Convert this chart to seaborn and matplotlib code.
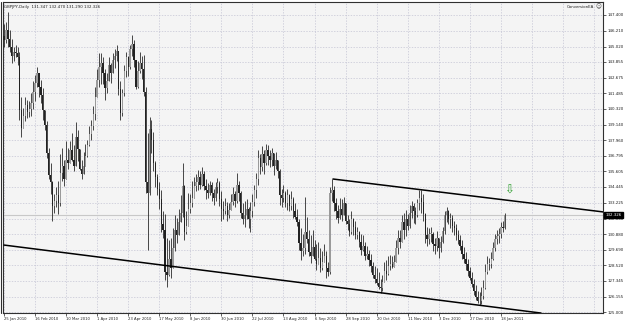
import numpy as np
import pandas as pd
import matplotlib
matplotlib.use("Agg")
import matplotlib.pyplot as plt
from matplotlib.lines import Line2D
import seaborn as sns

# ---------------- data ----------------
start_date = "2010-01-25"
first_open = 145.8

close = [
    145.5, 146.3, 145.6, 145.0, 144.3, 144.6, 144.5, 144.2, 140.2, 138.9,
    139.8, 140.6, 140.1, 140.3, 140.8, 141.6, 142.3, 143.0, 142.0, 141.4,
    140.2, 139.1, 137.0, 135.3, 134.8, 133.0, 133.4, 133.8, 133.2, 135.5,
    136.0, 135.0, 136.5, 136.2, 137.2, 136.5, 136.0, 138.2, 137.3, 135.8,
    135.4, 136.0, 136.8, 137.6, 138.4, 139.0, 139.9, 141.2, 142.5, 143.5,
    143.8, 143.0, 141.9, 142.4, 143.6, 143.0, 144.0, 144.3, 144.7, 141.8,
    140.0, 141.5, 143.2, 144.2, 143.5, 144.8, 145.2, 144.0, 142.0, 143.2,
    143.8, 143.3, 141.6, 134.8, 134.0, 138.8, 138.0, 136.2, 135.2, 134.3,
    133.5, 131.6, 131.2, 128.0, 127.8, 129.0, 128.3, 129.8, 131.2, 130.8,
    131.8, 132.5, 134.5, 131.0, 131.5, 132.8, 133.2, 133.6, 134.5, 134.8,
    135.2, 134.6, 135.4, 134.5, 134.2, 134.0, 134.6, 134.0, 133.6, 134.4,
    134.7, 133.5, 132.8, 132.6, 133.0, 132.3, 132.7, 133.3, 133.9, 133.4,
    134.6, 134.0, 132.5, 132.0, 132.3, 132.8, 132.0, 132.6, 133.3, 134.2,
    135.0, 136.6, 135.9, 136.9, 136.2, 137.2, 136.8, 136.5, 137.0, 136.0,
    136.5, 135.6, 133.8, 133.6, 134.0, 133.2, 133.8, 133.0, 133.5, 132.6,
    132.2, 131.8, 130.2, 129.6, 129.8, 131.0, 130.5, 129.5, 129.2, 129.9,
    129.0, 128.6, 129.1, 128.3, 128.8, 129.2, 128.3, 128.0, 134.0, 134.2,
    133.2, 132.6, 132.1, 132.8, 132.3, 133.2, 131.9, 131.6, 131.0, 132.0,
    131.4, 130.8, 131.0, 130.3, 129.7, 130.0, 129.2, 129.4, 128.9, 128.5,
    127.8, 127.5, 127.2, 126.9, 126.8, 127.3, 128.1, 127.9, 128.5, 128.6,
    128.4, 128.8, 129.8, 130.6, 130.3, 131.8, 131.2, 132.0, 131.5, 132.5,
    133.0, 132.6, 132.3, 133.2, 133.6, 133.3, 132.4, 130.8, 130.5, 130.9,
    130.9, 130.1, 130.0, 130.6, 129.8, 130.3, 131.1, 132.3, 132.6, 132.0,
    132.1, 131.5, 131.3, 130.8, 130.4, 130.0, 129.4, 129.0, 128.6, 128.1,
    127.6, 127.1, 126.6, 126.1, 125.8, 125.8, 126.2, 126.8, 128.0, 128.6,
    128.6, 129.0, 129.8, 130.5, 130.7, 130.9, 131.4, 131.347, 132.326,
]

high = [
    146.7, 146.9, 147.6, 146.3, 145.6, 145.0, 145.1, 145.0, 144.6, 141.2,
    140.4, 141.2, 141.0, 140.9, 141.5, 142.4, 142.9, 143.5, 143.0, 142.5,
    141.9, 140.0, 139.4, 137.4, 136.2, 134.9, 133.9, 134.4, 134.9, 136.9,
    137.4, 136.5, 137.9, 137.4, 137.9, 138.5, 137.6, 139.3, 138.7, 137.2,
    136.5, 137.1, 137.7, 138.0, 139.0, 139.5, 140.5, 142.0, 143.3, 144.5,
    144.5, 144.2, 143.3, 143.0, 144.2, 143.8, 144.5, 144.8, 145.1, 144.4,
    142.4, 141.8, 143.6, 144.6, 144.3, 145.1, 145.9, 145.5, 144.0, 143.9,
    144.6, 144.3, 144.4, 142.0, 138.5, 139.7, 139.5, 138.6, 136.4, 135.4,
    134.8, 134.2, 132.6, 132.4, 130.6, 130.4, 130.6, 131.3, 132.3, 132.1,
    132.8, 133.8, 136.2, 134.6, 132.6, 134.0, 133.9, 134.9, 135.2, 135.4,
    135.7, 135.6, 135.9, 135.6, 135.0, 134.7, 134.9, 134.8, 134.3, 134.8,
    135.1, 134.9, 134.1, 133.4, 133.6, 133.3, 133.2, 133.9, 134.4, 134.1,
    135.5, 134.9, 134.1, 133.2, 133.4, 133.5, 132.9, 133.3, 133.9, 134.6,
    135.5, 137.2, 136.9, 137.5, 137.2, 137.7, 137.6, 137.2, 137.4, 137.0,
    137.1, 136.5, 135.8, 134.3, 134.6, 134.1, 134.3, 133.9, 134.1, 133.7,
    133.2, 132.8, 132.0, 131.3, 130.9, 133.7, 132.2, 131.2, 130.8, 131.2,
    130.4, 130.1, 130.3, 129.8, 129.6, 130.1, 129.6, 128.8, 134.4, 135.0,
    134.5, 133.6, 133.1, 133.6, 133.5, 133.7, 133.0, 132.3, 132.0, 132.6,
    132.1, 131.9, 131.4, 131.1, 130.9, 130.8, 130.3, 130.0, 129.7, 129.4,
    128.8, 128.5, 128.3, 128.0, 127.5, 127.8, 128.8, 128.9, 129.2, 129.3,
    129.2, 129.3, 130.4, 131.2, 131.2, 132.3, 132.5, 132.7, 132.4, 133.1,
    133.4, 133.2, 132.9, 133.5, 134.2, 134.2, 133.9, 132.5, 131.4, 131.3,
    131.4, 131.0, 130.6, 131.1, 130.6, 130.7, 131.4, 132.6, 132.9, 132.7,
    132.5, 132.3, 131.9, 131.6, 131.2, 130.8, 130.4, 129.9, 129.5, 129.0,
    128.4, 128.0, 127.5, 127.0, 126.6, 126.5, 126.9, 127.4, 128.6, 129.2,
    129.1, 129.5, 130.3, 130.9, 131.2, 131.3, 131.8, 131.9, 132.470,
]

low = [
    145.0, 145.3, 145.0, 144.6, 143.8, 143.9, 144.2, 143.6, 139.5, 138.2,
    139.0, 139.4, 139.6, 139.7, 139.8, 140.3, 140.9, 142.0, 141.2, 140.8,
    139.5, 138.7, 136.6, 135.0, 133.9, 131.9, 132.5, 132.9, 132.4, 133.0,
    134.9, 134.5, 135.4, 135.8, 136.4, 136.4, 135.6, 137.0, 136.4, 135.7,
    135.0, 135.4, 136.1, 136.7, 137.5, 138.0, 138.7, 139.5, 141.5, 142.0,
    142.2, 142.2, 141.0, 141.5, 142.5, 142.3, 143.2, 143.4, 143.9, 141.4,
    139.5, 139.8, 141.3, 142.7, 142.8, 143.3, 144.3, 143.5, 141.8, 141.9,
    143.0, 142.6, 141.3, 134.0, 129.7, 133.8, 137.0, 135.6, 134.4, 133.8,
    132.8, 131.0, 130.6, 127.4, 126.9, 127.7, 127.6, 128.3, 129.6, 130.2,
    131.2, 131.9, 132.2, 130.4, 130.9, 131.9, 132.5, 132.9, 133.7, 134.1,
    134.2, 134.3, 134.5, 134.2, 133.5, 133.6, 133.8, 133.4, 133.1, 133.4,
    134.0, 133.0, 131.9, 132.0, 132.4, 131.9, 132.1, 132.7, 133.1, 132.9,
    133.2, 133.4, 132.1, 131.6, 131.4, 132.0, 131.3, 131.0, 132.2, 133.0,
    133.6, 134.6, 135.4, 135.6, 135.4, 136.1, 136.1, 135.9, 136.0, 135.3,
    135.8, 135.1, 133.1, 132.9, 133.3, 132.9, 132.7, 132.6, 132.7, 132.1,
    132.0, 131.5, 129.7, 128.9, 129.2, 129.4, 130.2, 129.2, 128.7, 129.2,
    128.9, 128.2, 128.8, 128.0, 128.2, 128.9, 127.6, 127.7, 127.9, 133.4,
    132.6, 132.0, 131.7, 132.0, 131.9, 132.3, 131.6, 131.2, 130.7, 130.9,
    130.8, 130.5, 130.5, 129.9, 129.3, 129.6, 128.9, 129.0, 128.5, 128.0,
    127.6, 127.2, 127.0, 126.7, 126.4, 126.6, 127.3, 127.4, 127.8, 128.2,
    128.3, 128.4, 128.8, 129.4, 129.8, 130.3, 130.5, 130.7, 131.2, 131.3,
    132.1, 131.7, 131.6, 132.2, 132.7, 132.5, 131.9, 130.2, 130.0, 130.1,
    130.3, 129.6, 129.4, 129.6, 129.1, 129.5, 130.2, 130.9, 131.8, 131.6,
    131.3, 131.0, 130.8, 130.4, 130.1, 129.7, 129.0, 128.7, 128.2, 127.7,
    127.4, 126.9, 126.3, 125.9, 125.7, 125.5, 125.6, 126.0, 126.7, 127.9,
    128.2, 128.3, 128.9, 129.6, 130.1, 130.2, 130.6, 131.0, 131.290,
]

price_ticks = [125.000, 126.155, 127.345, 128.520, 129.690, 130.880, 132.050,
               133.225, 134.445, 135.605, 136.795, 137.960, 139.140, 140.320,
               141.485, 142.675, 143.855, 145.020, 146.210, 147.400]

# trend lines (bar index, price) anchors
upper_line_x = [169.5, 309.1]
upper_line_y = [135.03, 132.54]
lower_line_x = [0.0, 276.7]
lower_line_y = [130.05, 124.92]

signal_bar = 260.2
signal_price = 134.2
bid_price = 132.326
title_text = "GBPJPY,Daily  131.347 132.470 131.290 132.326"
ea_text = "ConversionEA"

# ---------------- build table ----------------
n = len(close)
dates = pd.bdate_range(start=start_date, periods=n)
df = pd.DataFrame({"date": dates, "close": close, "high": high, "low": low})
df["open"] = [first_open] + close[:-1]
df["high"] = df[["high", "open", "close"]].max(axis=1)
df["low"] = df[["low", "open", "close"]].min(axis=1)
df["bar"] = np.arange(n)
df["up"] = df["close"] >= df["open"]

# ---------------- figure ----------------
sns.set_theme(style="white")
plt.rcParams["font.family"] = ["DejaVu Sans"]

W, H = 625, 323
fig = plt.figure(figsize=(W / 100, H / 100), dpi=100, facecolor="white")
ax = fig.add_axes([3 / W, 1 - 313 / H, 600 / W, 311 / H])
ax.set_facecolor("#F4F4F4")

xmin, xmax = -0.5, 308.6
ymin, ymax = 124.925, 148.38
ax.set_xlim(xmin, xmax)
ax.set_ylim(ymin, ymax)

grid_kw = dict(color="#C4C4D4", lw=0.5, ls=(0, (2, 2)), zorder=0)
for gx in np.arange(0, xmax, 16):
    ax.axvline(gx, **grid_kw)
for gy in price_ticks:
    ax.axhline(gy, **grid_kw)

# bid line
ax.axhline(bid_price, color="#C8C8C8", lw=0.8, zorder=1)

# candles
ax.vlines(df["bar"], df["low"], df["high"], color="#2a2a2a", lw=0.6, zorder=2)
body_bottom = df[["open", "close"]].min(axis=1)
body_h = (df["close"] - df["open"]).abs().clip(lower=0.06)
colors = np.where(df["up"], "#9a9a9a", "#222222")
ax.bar(df["bar"], body_h, bottom=body_bottom, width=0.7, color=colors,
       linewidth=0, zorder=3)

# trend lines via seaborn
sns.lineplot(x=upper_line_x, y=upper_line_y, ax=ax, color="black", lw=1.1, zorder=4)
sns.lineplot(x=lower_line_x, y=lower_line_y, ax=ax, color="black", lw=1.1, zorder=4)

# signal arrow
ax.text(signal_bar, signal_price, "\u21e9", color="#2e9e2e", fontsize=8.5,
        ha="center", va="center", zorder=5)

# axes ticks and labels
tick_bars = list(range(0, n, 16))
tick_labels = [f"{dates[b].day} {dates[b].strftime('%b %Y')}" for b in tick_bars]
ax.set_xticks(tick_bars)
ax.set_xticklabels(tick_labels)
for lbl in ax.get_xticklabels():
    lbl.set_horizontalalignment("left")
ax.yaxis.tick_right()
ax.set_yticks(price_ticks)
ax.set_yticklabels([f"{v:.3f}" for v in price_ticks])
ax.tick_params(axis="x", length=2, width=0.5, pad=1, labelsize=2.7,
               colors="#202020", bottom=True)
ax.tick_params(axis="y", length=2, width=0.5, pad=1, labelsize=2.9,
               colors="#202020", right=True, left=False)
ax.set_xlabel("")
ax.set_ylabel("")
ax.get_legend() and ax.get_legend().remove()

for s in ax.spines.values():
    s.set_color("#303030")
    s.set_linewidth(0.8)
    s.set_visible(True)
fig.add_artist(Line2D([1 / W, 1 / W], [1 - 313 / H, 1 - 2 / H],
                      transform=fig.transFigure, color="#303030", lw=0.8))

# current price box
ax.text(1.004, bid_price, f"{bid_price:.3f}", transform=ax.get_yaxis_transform(),
        color="white", fontsize=2.9, ha="left", va="center", zorder=10, clip_on=False,
        bbox=dict(boxstyle="square,pad=0.25", facecolor="black", edgecolor="black"))

# header texts
ax.text(0.002, 0.985, title_text, transform=ax.transAxes, fontsize=2.8,
        color="#202020", ha="left", va="center")
ax.text(0.985, 0.985, ea_text, transform=ax.transAxes, fontsize=2.8,
        color="#202020", ha="right", va="center")
ax.text(0.993, 0.985, "\u263a", transform=ax.transAxes, fontsize=4,
        color="#404040", ha="center", va="center")

fig.savefig("out.png", dpi=100, facecolor="white")
